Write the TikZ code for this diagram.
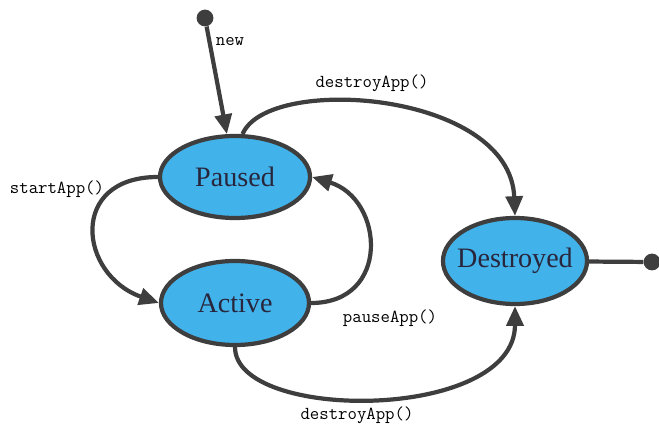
\documentclass[tikz,border=0pt]{standalone}
\usepackage{fontspec}
\setmainfont{Liberation Serif}
\usetikzlibrary{shapes.geometric,arrows.meta}
\definecolor{stateBlue}{RGB}{66,178,234}
\definecolor{lineGray}{RGB}{62,62,62}
\definecolor{textDark}{RGB}{40,38,60}
\begin{document}
\begin{tikzpicture}
[x=0.025cm,y=0.025cm,%
  stateNode/.style={ellipse,draw=lineGray,fill=stateBlue,line width=3pt,inner sep=0pt,%
    text=textDark,font=\fontsize{20}{24}\selectfont},%
  dotNode/.style={circle,fill=lineGray,inner sep=0pt,minimum size=0.42cm},%
  transArrow/.style={draw=lineGray,line width=3pt,-{Triangle[length=14pt,width=12pt]}},%
  plainLine/.style={draw=lineGray,line width=3pt},%
  labelText/.style={text=black,font=\ttfamily\fontsize{13}{15}\selectfont}]
\useasboundingbox (0,0) rectangle (659,428);
%% states
\node (paused) at (235,251) [stateNode,minimum width=3.75cm,minimum height=2.05cm] {\makebox[0pt]{Paused}};
\node (active) at (235,125) [stateNode,minimum width=3.7cm,minimum height=2.1cm] {\makebox[0pt]{Active}};
\node (destroyed) at (515,167) [stateNode,minimum width=3.6cm,minimum height=2.15cm] {\makebox[0pt]{Destroyed}};
%% start and end points
\node (start) at (205,410) [dotNode] {};
\node (finish) at (652,166) [dotNode] {};
%% transitions
\draw[transArrow] (start) -- (paused);
\draw[plainLine] (destroyed) -- (finish);
\draw[transArrow] (paused.80) .. controls +(25,60) and +(-5,125) .. (destroyed.north);
\draw[transArrow] (paused.west) .. controls +(-90,0) and +(-80,28) .. (active.west);
\draw[transArrow] (active.east) .. controls +(80,0) and +(72,-22) .. (paused.east);
\draw[transArrow] (active.south) .. controls +(0,-75) and +(0,-116) .. (destroyed.south);
%% labels
\node (newLbl) at (230,386) [labelText] {new};
\node (destroyTopLbl) at (372,345) [labelText] {destroyApp()};
\node (startLbl) at (57,239) [labelText] {startApp()};
\node (pauseLbl) at (390,110) [labelText] {pauseApp()};
\node (destroyBotLbl) at (357,13) [labelText] {destroyApp()};
\end{tikzpicture}
\end{document}
